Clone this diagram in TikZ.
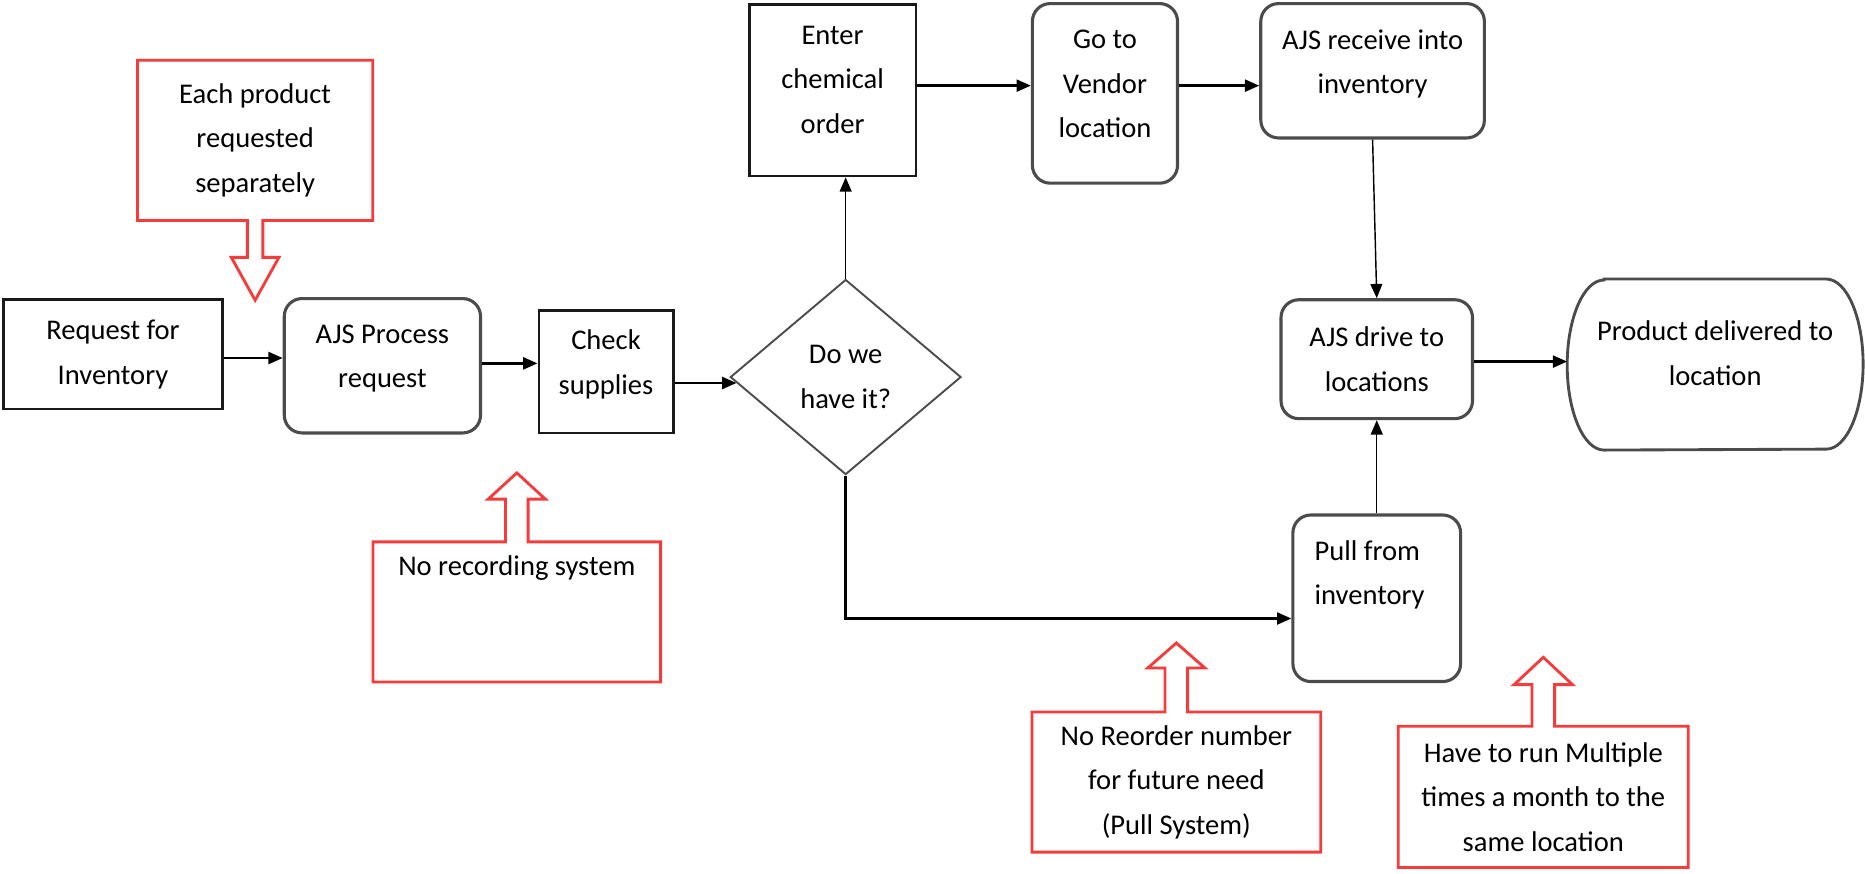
\documentclass[tikz,border=0pt]{standalone}
\usepackage{fontspec}
\setmainfont{Carlito}
\usetikzlibrary{shapes.geometric,arrows.meta,calc}
\newcommand{\lowstrut}[1]{\rule[-#1]{0pt}{#1}}
\definecolor{boxgray}{RGB}{75,75,75}
\definecolor{callred}{RGB}{245,60,60}
\begin{document}
\begin{tikzpicture}[x=0.5pt,y=-0.5pt,
  font=\fontsize{12}{18.75}\selectfont,
  every node/.style={inner sep=0pt, align=center, text=black},
  sbox/.style={draw=black!90, line width=1.1pt},
  rbox/.style={draw=boxgray, line width=1.3pt, rounded corners=7.5pt},
  dbox/.style={diamond, draw=boxgray, line width=0.8pt},
  ovalline/.style={draw=boxgray, line width=1.2pt},
  cline/.style={draw=callred, line width=1.2pt, line join=miter},
  arr/.style={-{Triangle[length=6pt,width=5pt]}, line width=1pt},
  tarr/.style={-{Triangle[length=6pt,width=5pt]}, line width=0.6pt},
]
\useasboundingbox (0,0) rectangle (1568,734);

% process nodes
\node[sbox, minimum width=92pt, minimum height=46pt] (req) at (95,298) {Request for\\Inventory};
\node[rbox, minimum width=82.5pt, minimum height=56.5pt] (ajs) at (321.5,307.5) {AJS Process\\request\lowstrut{8pt}};
\node[sbox, minimum width=56.5pt, minimum height=51.5pt] (chk) at (509.5,312.5) {Check\\supplies\lowstrut{8pt}};
\node[dbox, minimum width=97pt, minimum height=82pt] (dia) at (711,317) {Do we\\have it?};
\node[sbox, minimum width=70pt, minimum height=72pt] (ent) at (700,76) {Enter\\chemical\\order\lowstrut{9pt}};
\node[rbox, minimum width=61pt, minimum height=75.5pt] (go) at (929,78.5) {Go to\\Vendor\\location\lowstrut{8pt}};
\node[rbox, minimum width=94pt, minimum height=56.5pt] (rec) at (1154,59.5) {AJS receive into\\inventory\lowstrut{7.5pt}};
\node[rbox, minimum width=80.5pt, minimum height=50pt] (drv) at (1157.5,302) {AJS drive to\\locations};
\node[minimum width=124pt, minimum height=71.5pt] (prod) at (1442,306.5) {Product delivered to\\location\lowstrut{9.5pt}};
\node[rbox, minimum width=70.5pt, minimum height=70pt, align=left] (pull) at (1157.5,503) {Pull from\\inventory\hspace{6pt}\lowstrut{21.5pt}};

% terminal outline
\draw[ovalline] ($(prod.north west)+(31,0)$) -- ($(prod.north east)+(-31,0)$)
  arc[start angle=90, end angle=-90, x radius=15.5pt, y radius=35.75pt]
  -- ($(prod.south west)+(31,0)$)
  arc[start angle=270, end angle=90, x radius=15.5pt, y radius=35.75pt] -- cycle;

% callouts
\node[minimum width=98.5pt, minimum height=67pt] (c1) at (214.5,118) {Each product\\requested\\separately};
\node[minimum width=120.5pt, minimum height=58.5pt] (c2) at (434.5,514.5) {No recording system\lowstrut{39pt}};
\node[minimum width=121pt, minimum height=58.5pt] (c3) at (989,657.5) {No Reorder number\\for future need\\(Pull System)};
\node[minimum width=121.5pt, minimum height=59pt] (c4) at (1297.5,670) {Have to run Multiple\\times a month to the\\same location};

\draw[cline] (c1.north west) -- (c1.north east) -- (c1.south east)
  -- ($(c1.south)+(6.5,0)$) -- ++(0,31) -- ++(13.5,0) -- ($(c1.south)+(0,67)$)
  -- ($(c1.south)+(-20,31)$) -- ++(13.5,0) -- ($(c1.south)+(-6.5,0)$)
  -- (c1.south west) -- cycle;
\draw[cline] (c2.south west) -- (c2.north west)
  -- ($(c2.north)+(-9.5,0)$) -- ++(0,-36) -- ++(-14.5,0) -- ($(c2.north)+(0,-58)$)
  -- ($(c2.north)+(24,-36)$) -- ++(-14.5,0) -- ($(c2.north)+(9.5,0)$)
  -- (c2.north east) -- (c2.south east) -- cycle;
\draw[cline] (c3.south west) -- (c3.north west)
  -- ($(c3.north)+(-9.5,0)$) -- ++(0,-37) -- ++(-14.5,0) -- ($(c3.north)+(0,-58)$)
  -- ($(c3.north)+(24,-37)$) -- ++(-14.5,0) -- ($(c3.north)+(9.5,0)$)
  -- (c3.north east) -- (c3.south east) -- cycle;
\draw[cline] (c4.south west) -- (c4.north west)
  -- ($(c4.north)+(-9.5,0)$) -- ++(0,-35) -- ++(-15,0) -- ($(c4.north)+(0,-58)$)
  -- ($(c4.north)+(24.5,-35)$) -- ++(-15,0) -- ($(c4.north)+(9.5,0)$)
  -- (c4.north east) -- (c4.south east) -- cycle;

% connectors
\draw[arr] ($(req.east)+(0,3)$) -- ($(req.east -| ajs.west)+(0,3)$);
\draw[arr] ($(ajs.east)+(0,-2)$) -- ($(ajs.east -| chk.west)+(0,-2)$);
\draw[arr] ($(chk.east)+(0,9.5)$) -- ($(dia.west)+(6,5)$);
\draw[tarr] (dia.north) -- (dia.north |- ent.south);
\draw[arr] ($(ent.east)+(0,-4)$) -- ($(ent.east -| go.west)+(0,-4)$);
\draw[arr] ($(go.east)+(0,-6.5)$) -- ($(go.east -| rec.west)+(0,-6.5)$);
\draw[tarr] (rec.south) -- (drv.north);
\draw[tarr] (pull.north) -- (drv.south);
\draw[arr] ($(drv.east)+(0,2)$) -- ($(drv.east -| prod.west)+(0,2)$);
\draw[arr] (dia.south) |- ($(pull.west)+(0,17)$);
\end{tikzpicture}
\end{document}
